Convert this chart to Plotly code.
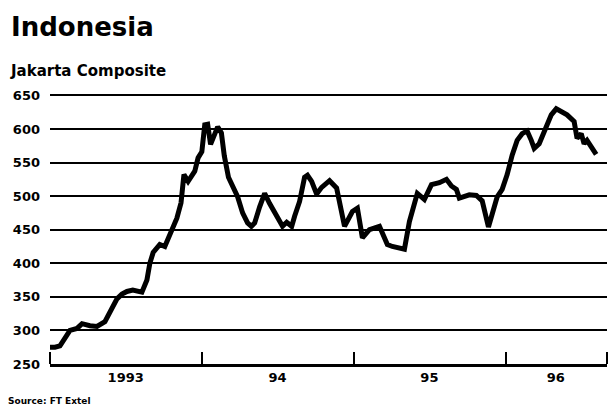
import plotly.graph_objects as go

# Jakarta Composite index
dates = [
    "1993-01-01", "1993-01-13", "1993-01-25", "1993-02-06", "1993-02-18", "1993-03-07",
    "1993-03-19", "1993-04-07", "1993-04-24", "1993-05-13", "1993-06-01", "1993-06-11",
    "1993-06-23", "1993-07-05", "1993-07-19", "1993-08-10", "1993-08-22", "1993-08-29",
    "1993-09-06", "1993-09-22", "1993-10-04", "1993-10-16", "1993-10-24", "1993-11-02",
    "1993-11-12", "1993-11-19", "1993-11-29", "1993-12-08", "1993-12-15", "1993-12-23",
    "1994-01-01", "1994-01-08", "1994-01-15", "1994-01-22", "1994-01-29", "1994-02-08",
    "1994-02-17", "1994-02-24", "1994-03-06", "1994-03-16", "1994-03-28", "1994-04-09",
    "1994-04-21", "1994-04-30", "1994-05-08", "1994-05-20", "1994-06-01", "1994-06-13",
    "1994-06-25", "1994-07-07", "1994-07-14", "1994-07-24", "1994-08-05", "1994-08-12",
    "1994-08-24", "1994-09-05", "1994-09-12", "1994-09-22", "1994-10-04", "1994-10-16",
    "1994-11-04", "1994-11-21", "1994-12-10", "1994-12-29", "1995-01-10", "1995-01-22",
    "1995-02-08", "1995-03-04", "1995-03-23", "1995-04-04", "1995-04-26", "1995-05-03",
    "1995-05-15", "1995-06-03", "1995-06-20", "1995-07-07", "1995-07-26", "1995-08-12",
    "1995-08-24", "1995-09-05", "1995-09-12", "1995-10-06", "1995-10-23", "1995-11-06",
    "1995-11-21", "1995-11-30", "1995-12-12", "1995-12-24", "1996-01-05", "1996-01-17",
    "1996-01-29", "1996-02-10", "1996-02-22", "1996-03-03", "1996-03-10", "1996-03-22",
    "1996-04-08", "1996-04-20", "1996-05-02", "1996-05-16", "1996-05-28", "1996-06-14",
    "1996-06-21", "1996-07-01", "1996-07-08", "1996-07-15", "1996-07-25", "1996-08-06",
]
index_values = [
    275, 275, 277, 288, 300, 303,
    310, 307, 306, 313, 335, 347,
    354, 358, 360, 357, 375, 400,
    416, 428, 425, 443, 455, 467,
    490, 532, 522, 530, 537, 557,
    566, 606, 607, 577, 588, 603,
    594, 560, 528, 514, 499, 475,
    460, 455, 460, 484, 504, 489,
    475, 461, 455, 461, 455, 470,
    492, 528, 531, 522, 503, 513,
    523, 512, 455, 477, 482, 438,
    450, 455, 428, 425, 421, 421,
    462, 504, 495, 517, 520, 525,
    515, 510, 497, 502, 501, 493,
    454, 474, 499, 510, 532, 561,
    583, 593, 597, 583, 571, 578,
    601, 621, 630, 626, 621, 611,
    586, 593, 578, 583, 572, 562,
]

y_ticks = [250, 300, 350, 400, 450, 500, 550, 600, 650]
year_boundaries = ["1993-01-01", "1994-01-01", "1995-01-01", "1996-01-01", "1996-09-01"]
year_label_pos = ["1993-07-02", "1994-07-02", "1995-07-02", "1996-05-01"]
year_labels = ["1993", "94", "95", "96"]

FONT = "DejaVu Sans"
H, W = 409, 610
ML, MR, MT, MB = 50, 3, 92, 45

fig = go.Figure()
fig.add_trace(go.Scatter(
    x=dates, y=index_values, mode="lines",
    line=dict(color="black", width=5),
    hoverinfo="skip", showlegend=False,
))

fig.update_layout(
    width=W, height=H,
    margin=dict(l=ML, r=MR, t=MT, b=MB),
    paper_bgcolor="white", plot_bgcolor="white",
    font=dict(family=FONT, color="black"),
    xaxis=dict(
        type="date",
        range=["1993-01-01", "1996-09-01"],
        tickvals=year_label_pos, ticktext=year_labels,
        ticks="", showgrid=False,
        tickfont=dict(family=FONT, size=13, color="black", weight="bold"),
        showline=True, linecolor="black", linewidth=2.5,
        minor=dict(tickvals=year_boundaries, ticks="inside", ticklen=12,
                   tickwidth=2, tickcolor="black", showgrid=False),
        zeroline=False, fixedrange=True,
    ),
    yaxis=dict(
        range=[250, 655],
        tickvals=y_ticks,
        ticks="", showgrid=True, gridcolor="black", gridwidth=2,
        tickfont=dict(family=FONT, size=13, color="black", weight="bold"),
        ticklabelstandoff=9,
        showline=False, zeroline=False, fixedrange=True,
    ),
)

ph = H - MT - MB
pw = W - ML - MR


def px(xp):
    return (xp - ML) / pw


def py(yp):
    return (H - MB - yp) / ph


ann = [
    dict(text="Indonesia", x=px(9), y=py(27), xref="paper", yref="paper",
         xanchor="left", yanchor="middle", showarrow=False,
         font=dict(family=FONT, size=26, color="black", weight="bold")),
    dict(text="Jakarta Composite", x=px(8), y=py(71), xref="paper", yref="paper",
         xanchor="left", yanchor="middle", showarrow=False,
         font=dict(family=FONT, size=15, color="black", weight="bold")),
    dict(text="Source: FT Extel", x=px(6), y=py(401), xref="paper", yref="paper",
         xanchor="left", yanchor="middle", showarrow=False,
         font=dict(family=FONT, size=9, color="black", weight="bold")),
]
fig.update_layout(annotations=ann)

fig.write_html("out.html",
               config={"displayModeBar": False},
               post_script="document.body.style.margin='0';document.body.style.padding='0';")
